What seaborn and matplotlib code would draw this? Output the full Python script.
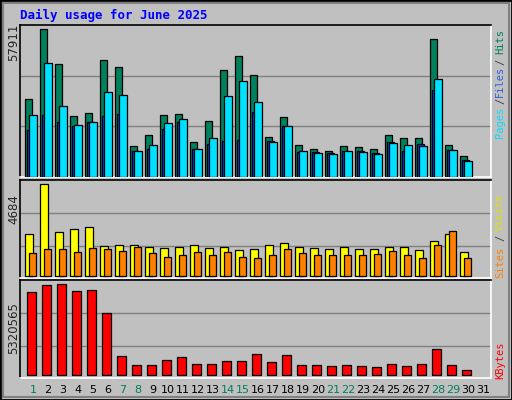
import numpy as np
import pandas as pd
import seaborn as sns
import matplotlib.pyplot as plt
from matplotlib.patches import Rectangle

# ---- Data ----
days = list(range(1, 32))
hits = [30400, 57911, 44150, 24100, 25290, 45730, 42980, 12320, 16640, 24500,
        24890, 13890, 22140, 41800, 47300, 39830, 15850, 23710, 12710, 11140,
        10350, 12320, 11920, 11140, 16640, 15460, 15460, 53980, 12710, 8390, 0]
files = [24500, 44550, 28040, 20570, 21750, 33150, 31970, 10350, 12710, 21360,
         22930, 11140, 15460, 31580, 37470, 29610, 13890, 20180, 10350, 9560,
         9170, 10350, 9960, 9170, 13500, 12710, 12320, 38260, 10740, 6420, 0]
pages = [18600, 24500, 21750, 20180, 21750, 24110, 24890, 10350, 11140, 19000,
         21750, 11140, 13100, 14280, 14670, 25680, 14280, 20180, 9960, 9960,
         9560, 10350, 10350, 9560, 13890, 10350, 13100, 33930, 10740, 6810, 0]
visits = [2148, 4684, 2249, 2401, 2503, 1539, 1590, 1590, 1488, 1437,
          1488, 1590, 1437, 1488, 1336, 1387, 1590, 1691, 1488, 1437,
          1387, 1488, 1387, 1387, 1488, 1488, 1336, 1792, 2148, 1234, 0]
sites = [1184, 1387, 1387, 1234, 1437, 1387, 1285, 1488, 1184, 981,
         1082, 1234, 1082, 1234, 981, 930, 1082, 1387, 1184, 1082,
         1082, 1082, 1082, 1133, 1285, 1082, 930, 1590, 2300, 930, 0]
kbytes = [4854500, 5262300, 5320565, 4912800, 4971000, 3631200, 1126200, 601960,
          601960, 893200, 1068000, 660200, 660200, 835000, 835000, 1242800,
          776700, 1184500, 601960, 601960, 543700, 601960, 543700, 485450,
          660200, 543700, 660200, 1534000, 601960, 310700, 0]
weekend = [1, 7, 8, 14, 15, 21, 22, 28, 29]

df = pd.DataFrame({"day": days, "hits": hits, "files": files, "pages": pages,
                   "visits": visits, "sites": sites, "kbytes": kbytes})
df = df[df["hits"] > 0]

C_HITS, C_FILES, C_PAGES = "#00805C", "#00E0FF", "#0040FF"
C_VISITS, C_SITES, C_KB = "#FFFF00", "#FF8000", "#FF0000"
BG = "#C0C0C0"

sns.set_style("white")
plt.rcParams["font.family"] = ["DejaVu Sans"]

fig = plt.figure(figsize=(5.12, 4.0), dpi=100, facecolor=BG)
W, H = 512.0, 400.0

# outer bevel frame
fig.patches.append(Rectangle((0, 0), 1, 1, transform=fig.transFigure,
                             fill=False, edgecolor="black", lw=2))
fig.patches.append(Rectangle((3 / W, 3 / H), 1 - 6 / W, 1 - 6 / H,
                             transform=fig.transFigure, fill=False,
                             edgecolor="#808080", lw=1.5))


def panel(top, bottom):
    ax = fig.add_axes([20 / W, 1 - bottom / H, 471 / W, (bottom - top) / H])
    ax.set_facecolor(BG)
    ax.set_xlim(1 - 13 / 15, 1 + 458 / 15)
    ax.set_xticks([])
    ax.set_yticks([])
    for s in ("left", "top"):
        ax.spines[s].set_color("black")
    for s in ("right", "bottom"):
        ax.spines[s].set_color("white")
    for s in ax.spines.values():
        s.set_linewidth(1.2)
    return ax


def bars(ax, col, off, width, color):
    ax.bar(df["day"] + off, df[col], width=width, align="edge", color=color,
           edgecolor="black", linewidth=0.9, zorder=3)


# ---- Hits / Files / Pages ----
ax1 = panel(25, 177)
ymax1 = 57911 * 455 / 442
ax1.set_ylim(0, ymax1)
for g in (ymax1 / 3, 2 * ymax1 / 3):
    ax1.axhline(g, color="#808080", lw=1, zorder=1)
bars(ax1, "hits", -0.51, 0.47, C_HITS)
bars(ax1, "pages", -0.40, 0.47, C_PAGES)
bars(ax1, "files", -0.25, 0.49, C_FILES)

# ---- Visits / Sites ----
ax2 = panel(180, 278)
ax2.set_ylim(-5 * 16.91, 290 * 16.91)
for g in (1539, 3213):
    ax2.axhline(g, color="#808080", lw=1, zorder=1)
bars(ax2, "visits", -0.51, 0.53, C_VISITS)
bars(ax2, "sites", -0.25, 0.47, C_SITES)

# ---- KBytes ----
ax3 = panel(280, 378)
ax3.set_ylim(-8 * 19418, 287 * 19418)
for g in (1728000, 3631000):
    ax3.axhline(g, color="#808080", lw=1, zorder=1)
bars(ax3, "kbytes", -0.42, 0.64, C_KB)

# day labels
for d in days:
    fig.text((33 + (d - 1) * 15) / W, 1 - 390 / H, str(d), ha="center",
             va="center", fontsize=8,
             color=C_HITS if d in weekend else "black")

# title and left max labels
fig.text(20 / W, 1 - 15 / H, "Daily usage for June 2025", color="#0000FF",
         fontsize=9, fontweight="bold", family="DejaVu Sans Mono", va="center")
for txt, y in (("57911", 42), ("4684", 194), ("5320565", 302)):
    fig.text(14 / W, 1 - y / H, txt, rotation=90, ha="center",
             va="top" if y > 100 else "center", fontsize=8.5)

# right side legends (rotated, coloured)
def rlabel(txt, y, color):
    fig.text(500 / W, 1 - y / H, txt, rotation=90, ha="center", va="center",
             color=color, fontsize=7.5, family="DejaVu Sans Mono")

rlabel("Hits", 41, C_HITS)
rlabel("/", 62, "#404040")
rlabel("Files", 81, "#3060E0")
rlabel("/", 101, "#404040")
rlabel("Pages", 122, C_FILES)
rlabel("Visits", 212, "#E0E000")
rlabel("/", 238, "#404040")
rlabel("Sites", 262, C_SITES)
rlabel("KBytes", 360, C_KB)

fig.savefig("out.png", dpi=100, facecolor=BG)
